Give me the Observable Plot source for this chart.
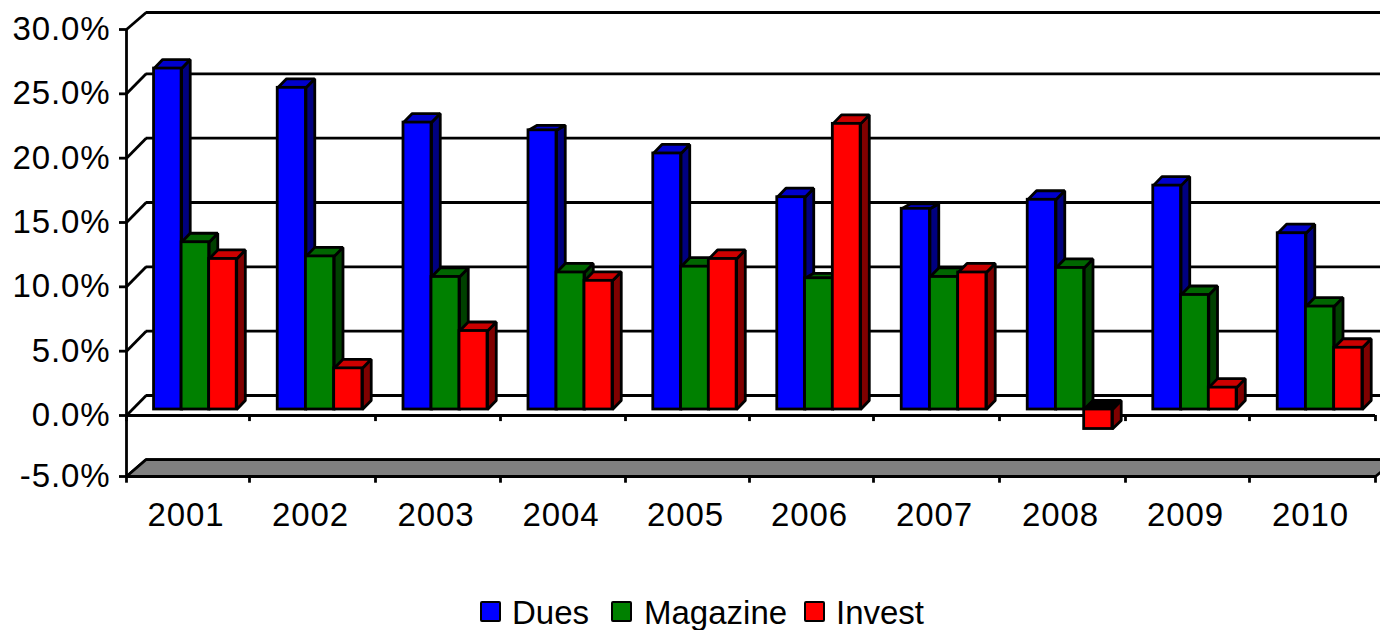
<!DOCTYPE html>
<html>
<head>
<meta charset="utf-8">
<script src="https://cdn.jsdelivr.net/npm/d3@7"></script>
<script src="https://cdn.jsdelivr.net/npm/@observablehq/plot@0.6"></script>
<style>
html,body{margin:0;padding:0;background:#fff;overflow:hidden}
#legend{position:relative;height:40px;font:33px "Liberation Sans",Arial,sans-serif;color:#000}
#legend i{position:absolute;top:11px;width:17px;height:17px;border:2.8px solid #000;border-radius:2px}
#legend span{position:absolute;top:4px;line-height:38px;white-space:nowrap}
</style>
</head>
<body>
<div id="chart"></div>
<div id="legend"></div>
<script>
const years = [2001,2002,2003,2004,2005,2006,2007,2008,2009,2010];
const dues = [26.5,25.0,22.3,21.7,19.9,16.5,15.6,16.3,17.4,13.7];
const magazine = [13.0,11.9,10.3,10.65,11.1,10.2,10.3,11.0,8.9,8.0];
const invest = [11.7,3.2,6.1,10.0,11.7,22.2,10.65,-1.6,1.7,4.8];
const yTicks = [-5,0,5,10,15,20,25,30];

const seriesNames = ["Dues","Magazine","Invest"];
const seriesValues = [dues,magazine,invest];
const faceColors = {
  Dues:{front:"#0000ff",top:"#0000cc",side:"#000080"},
  Magazine:{front:"#008000",top:"#006600",side:"#004000"},
  Invest:{front:"#ff0000",top:"#cc0000",side:"#800000"}
};

// scale layout (pixel-snapped like the original renderer)
const xRange = [126,249,375,500,625,749,873,999,1125,1249,1375];
const barW = 0.224, groupStart = 0.224, depthX = 0.07, depthY = 0.7;
const sw = 2.8;
const wallX = 0.16;
const wallDepth = v => v === 30 ? 1.32 : v === -5 ? 1.39 : 1.555;
// the original renderer squashes the top face of a few bars
const shallowTops = new Set(["2004Dues","2007Dues","2006Magazine"]);

const fronts = [], sides = [], tops = [];
years.forEach((yr,i) => {
  seriesNames.forEach((name,s) => {
    const v = seriesValues[s][i];
    const xl = i + groupStart + s*barW, xr = xl + barW;
    const c = faceColors[name], id = yr + name;
    const up = Math.max(v,0);
    const dTop = shallowTops.has(id) ? depthY*0.55 : depthY;
    fronts.push({x1:xl,x2:xr,y1:0,y2:v,fill:c.front});
    [[xr,up],[xr+depthX,up+dTop],[xr+depthX,v<0?v+depthY:depthY],[xr,v<0?v:0],[xr,up]]
      .forEach(p => sides.push({x:p[0],y:p[1],id,fill:c.side}));
    [[xl,up],[xl+depthX,up+dTop],[xr+depthX,up+dTop],[xr,up],[xl,up]]
      .forEach(p => tops.push({x:p[0],y:p[1],id,fill:v<0?"#000000":c.top}));
  });
});
const floor = [[0,-5],[wallX,-5+wallDepth(-5)],[10+wallX,-5+wallDepth(-5)],[10,-5],[0,-5]]
  .map(p => ({x:p[0],y:p[1]}));
const wall = yTicks.map(v => ({v,back:v+wallDepth(v)}));
const xIdx = d3.range(11);
const common = {stroke:"#000",strokeWidth:sw};

const plot = Plot.plot({
  width:1380,height:590,
  marginLeft:126,marginRight:5,marginTop:29,marginBottom:114,
  style:{fontFamily:'"Liberation Sans",Arial,sans-serif',background:"#fff",color:"#000"},
  x:{type:"linear",domain:xIdx,range:xRange},
  y:{type:"linear",domain:[-5,0,30],range:[476,415,29]},
  color:{type:"identity"},
  marks:[
    // back wall gridlines and the diagonals joining them to the axis
    Plot.ruleY(wall,{y:"back",x1:wallX,x2:10+wallX,...common}),
    Plot.link(wall,{x1:0,x2:wallX,y1:"v",y2:"back",...common}),
    // floor
    Plot.line(floor,{x:"x",y:"y",fill:"#808080",...common,strokeLinejoin:"miter"}),
    // axes
    Plot.ruleX([0],{y1:-5,y2:30,...common}),
    Plot.ruleY([0,-5],{x1:0,x2:10,...common}),
    Plot.ruleX(xIdx,{x:d=>d,y1:0,y2:-0.5,...common}),
    Plot.ruleX(xIdx,{x:d=>d,y1:-5,y2:-5.55,...common}),
    Plot.axisY({ticks:yTicks,tickFormat:d=>d.toFixed(1)+"%",tickSize:7,tickPadding:9,fontSize:33,strokeWidth:sw,label:null}),
    Plot.axisX({ticks:years.map((_,i)=>i+0.5),tickFormat:d=>String(years[Math.floor(d)]),tickSize:0,tickPadding:26,fontSize:33,label:null,dx:-2}),
    // bars: sides, tops, then fronts
    Plot.line(sides,{x:"x",y:"y",z:"id",fill:"fill",dy:-6,...common,strokeLinejoin:"miter"}),
    Plot.line(tops,{x:"x",y:"y",z:"id",fill:"fill",dy:-6,...common,strokeLinejoin:"miter"}),
    Plot.rect(fronts,{x1:"x1",x2:"x2",y1:"y1",y2:"y2",fill:"fill",dy:-6,...common})
  ]
});
document.getElementById("chart").append(plot);
plot.style.display="block";
plot.style.letterSpacing="0.9px";

const legend = document.getElementById("legend");
const swatchX = [480,611,804], textX = [512,644,836];
seriesNames.forEach((name,i)=>{
  const sq = document.createElement("i");
  sq.style.left = swatchX[i]+"px";
  sq.style.background = faceColors[name].front;
  const t = document.createElement("span");
  t.style.left = textX[i]+"px";
  t.textContent = name;
  legend.append(sq,t);
});
</script>
</body>
</html>
